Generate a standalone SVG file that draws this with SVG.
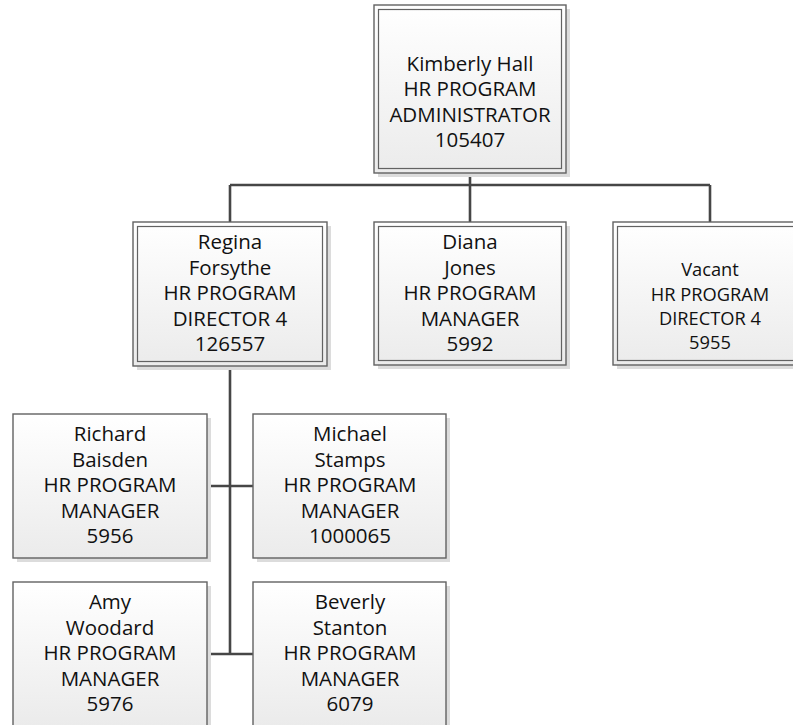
<svg xmlns="http://www.w3.org/2000/svg" width="793" height="725" viewBox="0 0 793 725">
<style>
.shadow{fill:#dcdcdc}
.box{fill:url(#g);stroke:#626262;stroke-width:1.4}
.inner{fill:none;stroke:#626262;stroke-width:1.2}
.conn{stroke:#464646;stroke-width:2.6;fill:none}
.t{font-family:"Open Sans","Noto Sans",sans-serif;font-size:20.5px;fill:#111;text-anchor:middle}
.s{font-size:18.3px}
</style>
<defs>
<linearGradient id="g" x1="0" y1="0" x2="0" y2="1">
<stop offset="0" stop-color="#ffffff"/>
<stop offset="1" stop-color="#ebebeb"/>
</linearGradient>
</defs>
<rect width="793" height="725" fill="#ffffff"/>
<g id="connectors">
<path class="conn" d="M470 173V185M230 185H710M230 185V222M470 185V222M710 185V222M230 366V654M207 486H253M207 654H253"/>
</g>
<g id="kimberly">
<rect class="shadow" x="378" y="9" width="192" height="168"/>
<rect class="box" x="374" y="5" width="192" height="168"/>
<rect class="inner" x="378.5" y="9.5" width="183" height="159"/>
<text class="t" x="470" y="70.5">Kimberly Hall</text>
<text class="t" x="470" y="96">HR PROGRAM</text>
<text class="t" x="470" y="121.5">ADMINISTRATOR</text>
<text class="t" x="470" y="147">105407</text>
</g>
<g id="regina">
<rect class="shadow" x="137" y="226" width="194" height="144"/>
<rect class="box" x="133" y="222" width="194" height="144"/>
<rect class="inner" x="137.5" y="226.5" width="185" height="135"/>
<text class="t" x="230" y="249">Regina</text>
<text class="t" x="230" y="274.5">Forsythe</text>
<text class="t" x="230" y="300">HR PROGRAM</text>
<text class="t" x="230" y="325.5">DIRECTOR 4</text>
<text class="t" x="230" y="351">126557</text>
</g>
<g id="diana">
<rect class="shadow" x="378" y="226" width="192" height="143"/>
<rect class="box" x="374" y="222" width="192" height="143"/>
<rect class="inner" x="378.5" y="226.5" width="183" height="134"/>
<text class="t" x="470" y="249">Diana</text>
<text class="t" x="470" y="274.5">Jones</text>
<text class="t" x="470" y="300">HR PROGRAM</text>
<text class="t" x="470" y="325.5">MANAGER</text>
<text class="t" x="470" y="351">5992</text>
</g>
<g id="vacant">
<rect class="shadow" x="617" y="226" width="194" height="143"/>
<rect class="box" x="613" y="222" width="194" height="143"/>
<rect class="inner" x="617.5" y="226.5" width="185" height="134"/>
<text class="t s" x="710" y="276">Vacant</text>
<text class="t s" x="710" y="301">HR PROGRAM</text>
<text class="t s" x="710" y="325">DIRECTOR 4</text>
<text class="t s" x="710" y="349">5955</text>
</g>
<g id="richard">
<rect class="shadow" x="17" y="418" width="194" height="144"/>
<rect class="box" x="13" y="414" width="194" height="144"/>
<text class="t" x="110" y="441">Richard</text>
<text class="t" x="110" y="466.5">Baisden</text>
<text class="t" x="110" y="492">HR PROGRAM</text>
<text class="t" x="110" y="517.5">MANAGER</text>
<text class="t" x="110" y="543">5956</text>
</g>
<g id="michael">
<rect class="shadow" x="257" y="418" width="193" height="144"/>
<rect class="box" x="253" y="414" width="193" height="144"/>
<text class="t" x="350" y="441">Michael</text>
<text class="t" x="350" y="466.5">Stamps</text>
<text class="t" x="350" y="492">HR PROGRAM</text>
<text class="t" x="350" y="517.5">MANAGER</text>
<text class="t" x="350" y="543">1000065</text>
</g>
<g id="amy">
<rect class="shadow" x="17" y="586" width="194" height="144"/>
<rect class="box" x="13" y="582" width="194" height="144"/>
<text class="t" x="110" y="609">Amy</text>
<text class="t" x="110" y="634.5">Woodard</text>
<text class="t" x="110" y="660">HR PROGRAM</text>
<text class="t" x="110" y="685.5">MANAGER</text>
<text class="t" x="110" y="711">5976</text>
</g>
<g id="beverly">
<rect class="shadow" x="257" y="586" width="193" height="144"/>
<rect class="box" x="253" y="582" width="193" height="144"/>
<text class="t" x="350" y="609">Beverly</text>
<text class="t" x="350" y="634.5">Stanton</text>
<text class="t" x="350" y="660">HR PROGRAM</text>
<text class="t" x="350" y="685.5">MANAGER</text>
<text class="t" x="350" y="711">6079</text>
</g>
</svg>
